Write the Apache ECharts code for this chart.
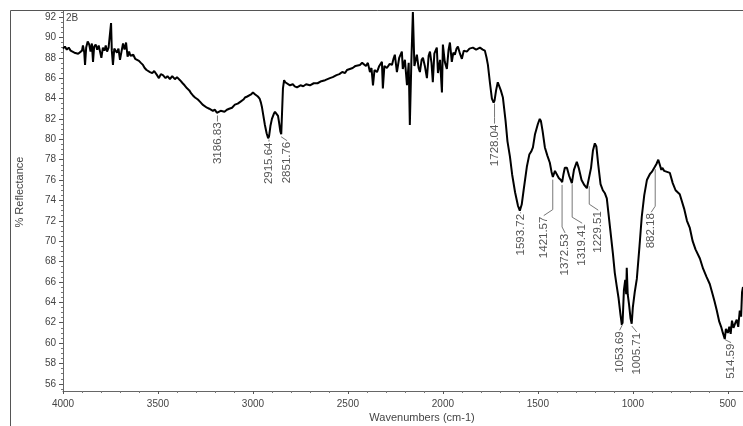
<!DOCTYPE html>
<html><head><meta charset="utf-8">
<script src="https://cdn.jsdelivr.net/npm/echarts@6/dist/echarts.min.js"></script>
<style>html,body{margin:0;padding:0;background:#fff}#c{width:743px;height:426px}</style>
</head><body><div id="c"></div>
<script>
const wavenumbers = [4000,3990,3980,3970,3960,3950,3940,3930,3920,3910,3900,3895,3888,3884,3878,3870,3862,3855,3848,3842,3836,3828,3820,3812,3805,3798,3790,3782,3775,3768,3760,3752,3747,3743,3737,3730,3722,3716,3708,3700,3692,3684,3676,3668,3660,3652,3645,3630,3620,3611,3600,3590,3579,3570,3560,3550,3542,3530,3520,3505,3495,3485,3474,3460,3450,3437,3425,3411,3400,3384,3370,3360,3347,3335,3325,3316,3305,3290,3279,3265,3255,3242,3230,3220,3211,3200,3190,3180,3170,3160,3150,3137,3125,3110,3095,3080,3065,3050,3042,3030,3020,3010,3000,2995,2988,2980,2974,2965,2958,2953,2945,2937,2928,2920,2915,2908,2900,2890,2884,2876,2868,2862,2856,2851,2847,2842,2836,2830,2820,2805,2790,2780,2768,2750,2735,2720,2700,2680,2660,2640,2620,2595,2580,2560,2545,2530,2515,2505,2490,2475,2460,2450,2437,2425,2415,2405,2395,2384,2376,2368,2360,2347,2335,2321,2316,2308,2295,2280,2268,2260,2253,2242,2230,2216,2211,2200,2189,2180,2174,2166,2158,2150,2137,2128,2121,2112,2105,2095,2084,2075,2068,2060,2053,2045,2032,2026,2015,2005,2000,1990,1979,1970,1963,1953,1945,1937,1928,1921,1910,1900,1890,1874,1860,1842,1825,1805,1790,1779,1770,1763,1752,1742,1733,1728,1720,1711,1705,1695,1684,1670,1660,1647,1635,1620,1605,1595,1585,1575,1558,1545,1535,1526,1515,1500,1490,1484,1475,1463,1450,1437,1428,1421,1410,1400,1390,1379,1372,1365,1358,1347,1335,1321,1310,1295,1285,1270,1255,1242,1232,1220,1210,1200,1192,1182,1170,1158,1147,1137,1121,1105,1095,1084,1075,1065,1058,1054,1047,1040,1035,1032,1027,1020,1012,1006,1000,990,979,965,953,940,926,910,900,895,884,875,866,858,850,845,835,820,805,790,775,753,730,715,700,685,670,647,630,612,595,580,570,558,545,535,526,516,510,500,492,485,478,470,460,453,445,437,430,425,420];
const reflectance = [88.9,89.1,88.8,89.0,88.7,88.8,88.5,88.6,88.4,88.3,88.7,89.2,88.5,87.3,89.0,89.6,89.3,88.6,89.4,87.6,89.1,89.3,88.8,89.2,88.6,88.0,89.0,88.7,89.2,88.6,89.0,88.9,91.4,88.7,87.3,88.9,89.0,88.5,88.9,87.8,88.6,89.4,88.8,89.5,88.1,88.6,88.2,88.3,87.9,88.0,87.7,87.5,87.3,87.0,86.8,86.9,86.6,86.5,86.7,86.3,86.0,86.4,86.3,86.0,86.2,85.9,86.2,85.9,86.1,85.8,85.5,85.3,85.0,84.8,84.5,84.3,84.1,83.9,83.7,83.4,83.3,83.1,83.0,82.9,82.8,82.9,82.6,82.7,82.8,82.9,82.7,82.9,83.0,83.1,83.4,83.5,83.7,83.9,84.1,84.2,84.3,84.4,84.6,84.7,84.4,84.5,84.2,84.0,83.6,83.2,82.3,81.4,80.6,80.1,80.3,81.3,82.0,82.5,82.7,82.6,82.3,81.6,80.8,80.5,82.5,85.0,85.8,85.6,85.5,85.3,85.4,85.2,85.1,85.3,85.2,85.4,85.3,85.5,85.5,85.7,85.8,86.0,86.1,86.3,86.4,86.6,86.5,86.8,86.9,87.0,87.2,87.3,87.3,87.5,87.6,87.2,87.5,86.6,87.0,85.3,86.8,86.6,87.2,87.6,85.0,87.2,87.0,87.4,87.3,87.9,88.3,86.6,88.0,88.6,86.9,87.8,85.3,87.5,81.4,87.6,92.5,87.2,88.3,87.0,86.6,87.8,88.0,87.2,86.0,88.2,88.6,87.5,85.6,88.4,89.0,86.5,87.8,84.6,89.3,87.6,86.9,88.8,89.5,87.6,88.5,88.3,88.9,89.1,88.4,87.9,88.7,88.6,88.9,89.0,88.8,89.0,88.8,88.7,88.0,87.3,85.5,84.0,83.6,83.8,84.8,85.6,85.5,84.8,84.1,81.8,79.8,78.3,76.5,74.8,73.5,73.0,73.6,75.0,77.3,78.5,78.8,79.2,80.5,81.5,82.0,81.8,80.8,79.2,78.4,77.7,76.8,76.3,76.9,76.8,76.2,76.0,75.8,76.6,77.2,77.2,76.4,75.7,77.0,77.8,77.2,76.0,75.5,75.2,75.3,77.2,78.9,79.6,79.3,77.5,75.6,75.0,74.7,74.2,71.5,68.8,66.9,65.5,64.4,62.8,61.8,62.0,65.2,66.2,64.8,67.4,64.8,63.8,62.4,61.9,63.5,65.0,66.3,69.5,72.4,74.5,76.0,76.6,76.8,76.8,77.3,77.6,78.0,77.5,77.0,77.2,76.9,76.8,76.7,75.7,75.0,74.6,73.2,72.0,71.3,70.0,69.2,68.3,67.3,66.5,65.8,64.8,64.1,63.2,62.1,61.6,61.0,60.4,61.4,61.0,61.6,60.9,62.2,61.5,62.0,62.3,61.6,63.2,62.6,65.0,65.5];
const yTickValues = [56,58,60,62,64,66,68,70,72,74,76,78,80,82,84,86,88,90,92];
const xTickValues = [4000,3500,3000,2500,2000,1500,1000,500];
const peakWavenumbers = [3186.83,2915.64,2851.76,1728.04,1593.72,1421.57,1372.53,1319.41,1229.51,882.18,1053.69,1005.71,514.59];
const peakLabels = ['3186.83','2915.64','2851.76','1728.04','1593.72','1421.57','1372.53','1319.41','1229.51','882.18','1053.69','1005.71','514.59'];

// label placement (pixel offsets of text from the peak point: dx, dy)
const labelLayout = [[0,10],[0,6],[6,8],[0,24],[1,4],[-9,40],[3,52],[10,43],[9,28],[-4,47],[-3,10],[5,10],[6,7]];

function interp(w){
  for (let i=0;i<wavenumbers.length-1;i++){
    const a=wavenumbers[i], b=wavenumbers[i+1];
    if (w<=a && w>=b){ const t=(a-w)/(a-b); return reflectance[i]+(reflectance[i+1]-reflectance[i])*t; }
  }
  return reflectance[reflectance.length-1];
}
const lineData = wavenumbers.map((w,i)=>[w, reflectance[i]]);
const peakData = peakWavenumbers.map(w=>[w, interp(w)]);

const chart = echarts.init(document.getElementById('c'), null, {renderer:'canvas'});
const txt = '#444';
chart.setOption({
  animation:false,
  backgroundColor:'#fff',
  grid:{left:63, top:11, width:680, height:380},
  xAxis:{type:'value', inverse:true, min:420, max:4000, splitNumber:7,
    axisLine:{show:true, lineStyle:{color:'#666', width:1}},
    axisTick:{show:true, length:3, customValues:xTickValues, lineStyle:{color:'#555'}},
    minorTick:{show:true, splitNumber:5, length:2, lineStyle:{color:'#777'}},
    axisLabel:{customValues:xTickValues, formatter:v=>String(v), color:txt, fontSize:10, fontFamily:'Liberation Sans', margin:8},
    splitLine:{show:false}},
  yAxis:{type:'value', min:55.3, max:92.59, splitNumber:18,
    axisLine:{show:true, lineStyle:{color:'#666', width:1}},
    axisTick:{show:true, length:4, customValues:yTickValues, lineStyle:{color:'#555'}},
    minorTick:{show:true, splitNumber:4, length:2, lineStyle:{color:'#777'}},
    axisLabel:{customValues:yTickValues, formatter:v=>String(v), color:txt, fontSize:10, fontFamily:'Liberation Sans', margin:7},
    splitLine:{show:false}},
  graphic:[
    {type:'rect', shape:{x:10.5, y:10.5, width:800, height:500}, style:{fill:'none', stroke:'#555', lineWidth:1}, silent:true},
    {type:'text', left:66, top:13, style:{text:'2B', fill:txt, font:'10px "Liberation Sans"'}},
    {type:'text', x:422, y:418, style:{text:'Wavenumbers (cm-1)', fill:txt, font:'11px "Liberation Sans"', align:'center', verticalAlign:'middle'}},
    {type:'text', x:20, y:192, rotation:Math.PI/2, style:{text:'% Reflectance', fill:txt, font:'11px "Liberation Sans"', align:'center', verticalAlign:'middle'}}
  ],
  series:[
    {type:'line', data:lineData, showSymbol:false, symbol:'none', lineStyle:{color:'#000', width:2}, z:3},
    {type:'custom', data:peakData, clip:false, z:4,
      renderItem:function(params, api){
        const i = params.dataIndex;
        const p = api.coord([api.value(0), api.value(1)]);
        const lay = labelLayout[i];
        const tx = p[0]+lay[0], top = p[1]+lay[1];
        const pts = lay[1] > 14 ? [[p[0],p[1]+3],[p[0],top-7],[tx,top-1]] : [[p[0],p[1]+3],[tx,top-1]];
        return {type:'group', children:[
          {type:'polyline', shape:{points:pts}, style:{stroke:'#777', lineWidth:1, fill:'none'}},
          {type:'text', x:tx, y:top, rotation:Math.PI/2, style:{text:peakLabels[i], x:0, y:0, align:'right', verticalAlign:'middle', fill:'#555', font:'11.5px "Liberation Sans"'}}
        ]};
      }}
  ]
});
</script></body></html>
